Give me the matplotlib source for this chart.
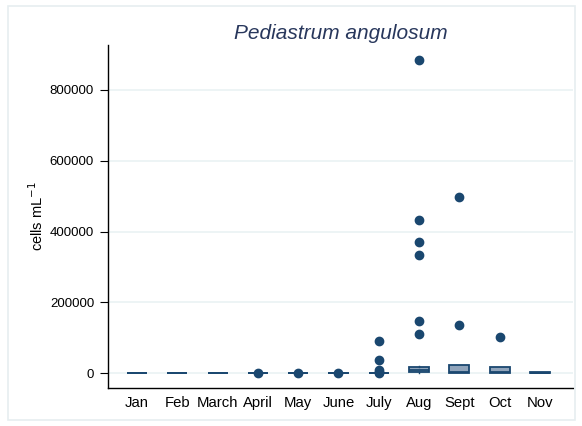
import matplotlib.pyplot as plt
from matplotlib.patches import Rectangle

# months and box statistics (cells per mL)
months = ["Jan", "Feb", "March", "April", "May", "June", "July", "Aug", "Sept", "Oct", "Nov"]
q1 = [0, 0, 0, 0, 0, 0, 0, 2000, 1000, 0, 0]
med = [0, 0, 0, 0, 0, 0, 0, 9000, 2000, 3000, 0]
q3 = [0, 0, 0, 0, 0, 0, 1000, 17000, 24000, 16000, 2500]
whislo = [0, 0, 0, 0, 0, 0, 0, 0, 0, 0, 0]
whishi = [0, 0, 0, 0, 0, 0, 1500, 21000, 24000, 16000, 3500]
fliers = [
    [],
    [],
    [],
    [500],
    [500],
    [500],
    [92000, 36000, 9000, 4000, 1500],
    [885000, 432000, 370000, 333000, 148000, 111000],
    [497000, 136000],
    [101000],
    [],
]

navy = "#1a476f"
fill = "#90a4bb"

plt.rcParams["font.family"] = ["Liberation Sans", "DejaVu Sans"]

fig = plt.figure(figsize=(5.82, 4.26), dpi=100)
fig.patches.append(Rectangle((8 / 582, 6 / 426), 567 / 582, 414 / 426,
                             transform=fig.transFigure, fill=False,
                             edgecolor="#e6eef0", linewidth=1.2))
ax = fig.add_axes([108 / 582, 38 / 426, 465 / 582, 343 / 426])

stats = []
for i, m in enumerate(months):
    stats.append(dict(label=m, q1=q1[i], med=med[i], q3=q3[i],
                      whislo=whislo[i], whishi=whishi[i], fliers=fliers[i]))

ax.bxp(stats, positions=range(1, len(months) + 1), widths=0.5,
       patch_artist=True, showcaps=False,
       boxprops=dict(facecolor=fill, edgecolor=navy, linewidth=1.3),
       medianprops=dict(color=navy, linewidth=1.3),
       whiskerprops=dict(color=navy, linewidth=1.0),
       flierprops=dict(marker="o", markerfacecolor=navy, markeredgecolor=navy,
                       markersize=6))

ax.set_xlim(0.28, 11.82)
ax.set_ylim(-42000, 927000)
ax.set_yticks([0, 200000, 400000, 600000, 800000])
ax.set_yticklabels(["0", "200000", "400000", "600000", "800000"])
ax.yaxis.grid(True, color="#eaf2f3", linewidth=1.2)
ax.set_axisbelow(True)

for s in ["top", "right"]:
    ax.spines[s].set_visible(False)
ax.spines["left"].set_linewidth(1.0)
ax.spines["bottom"].set_linewidth(1.0)
ax.tick_params(axis="x", length=0, labelsize=10.7, pad=6)
ax.tick_params(axis="y", length=6, labelsize=9.5, pad=4)

ax.set_ylabel("cells mL$^{-1}$", fontsize=10.5, labelpad=3)
ax.set_title("Pediastrum angulosum", fontsize=15, style="italic",
             color="#28375c", pad=4)

fig.savefig("out.png", dpi=100)
